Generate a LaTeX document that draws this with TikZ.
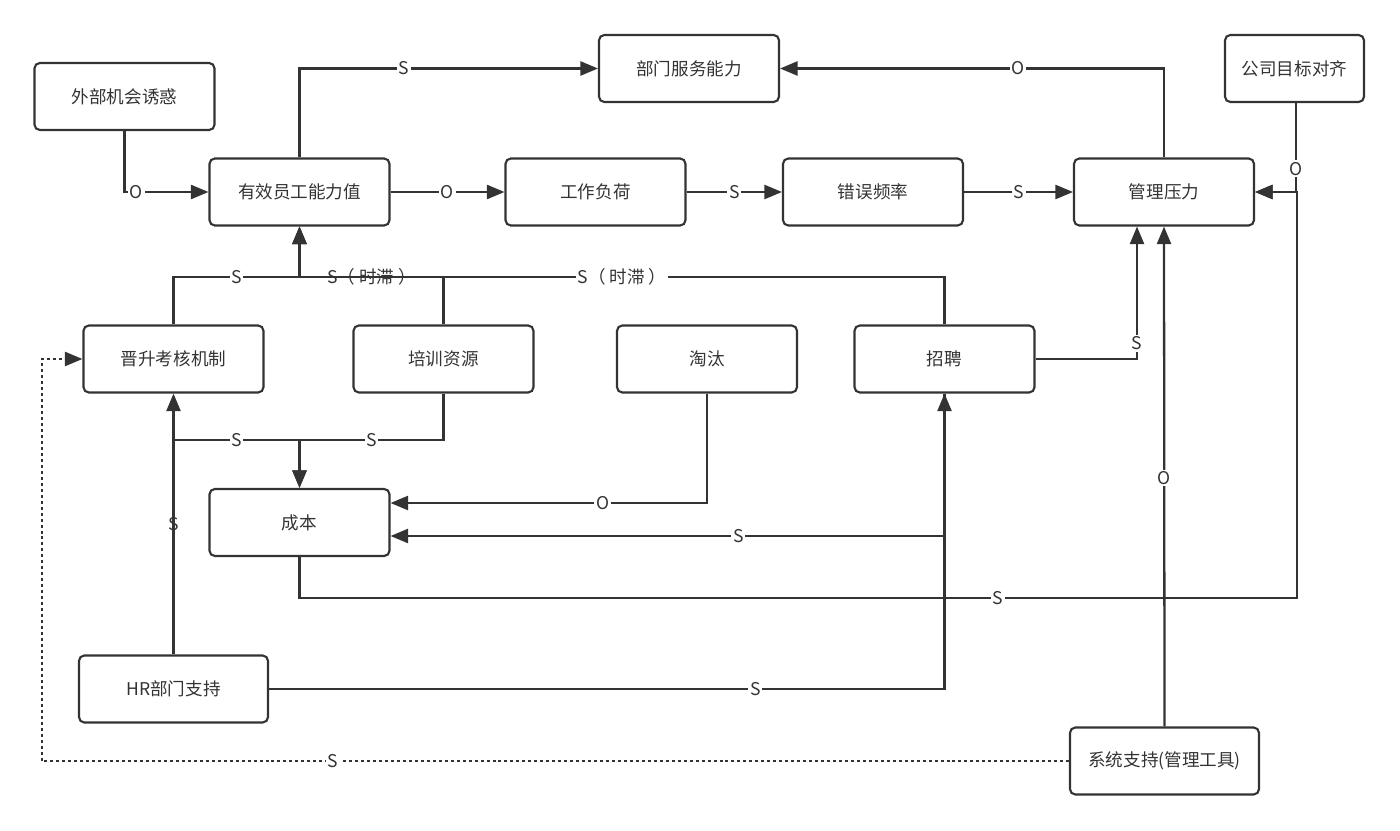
\documentclass[tikz,border=0pt]{standalone}
\usepackage{fontspec}
\setmainfont{Noto Sans CJK SC}
\usetikzlibrary{arrows.meta}
\begin{document}
\begin{tikzpicture}[
        x=0.02cm, y=-0.02cm,
        box/.style = {rectangle, rounded corners=3pt, draw=black!80, line width=1.2pt, minimum width=3.6cm, minimum height=1.34cm, align=center, font=\fontsize{10}{12}\selectfont, text=black!80},
        wide/.style = {box, minimum width=3.78cm},
        small/.style = {box, minimum width=2.78cm},
        arrow/.style = {draw=black!80, line width=1.3pt, -{Triangle[length=10pt, width=8pt]}},
        dotarrow/.style = {arrow, dash pattern=on 1.7pt off 1.7pt, line width=1.3pt},
        lbl/.style = {fill=white, inner sep=1pt, font=\fontsize{10}{12}\selectfont, text=black!80}
    ]
    \useasboundingbox (0,0) rectangle (1400,831);
    % ================= FILA SUPERIOR =================
    \node[box] (wai) at (124.5, 96.5) {外部机会诱惑};
    \node[box] (bm) at (689, 68.5) {部门服务能力};
    \node[small] (mb) at (1294.5, 68.5) {公司目标对齐};
    %
    \node[box] (yx) at (299.5, 192) {有效员工能力值};
    \node[box] (gz) at (595.5, 192) {工作负荷};
    \node[box] (cw) at (873, 192) {错误频率};
    \node[box] (gl) at (1164, 192) {管理压力};

    % ================= FILA MEDIA =================
    \node[box] (js) at (173.5, 359) {晋升考核机制};
    \node[box] (px) at (443.5, 359) {培训资源};
    \node[box] (tt) at (707, 359) {淘汰};
    \node[box] (zp) at (944.5, 359) {招聘};
    %
    \node[box] (cb) at (299.5, 522.5) {成本};

    % ================= FILA INFERIOR =================
    \node[wide] (hr) at (173.5, 689) {HR部门支持};
    \node[wide] (xt) at (1164.5, 761) {系统支持(管理工具)};

    % puntos de paso
    \coordinate (hub) at (299.5, 277);
    \coordinate (cbhub) at (299.5, 440);
    \coordinate (cbturn) at (1297, 598);
    \coordinate (dotturn) at (42, 761);

    % ================= CONEXIONES =================
    \draw[arrow] (wai.south) |- node[lbl, pos=0.57] {O} (yx.west);
    \draw[arrow] (yx.north) |- node[lbl, pos=0.675] {S} (bm.west);
    \draw[arrow] (gl.north) |- node[lbl, pos=0.69] {O} (bm.east);
    \draw[arrow] (yx) -- node[lbl] {O} (gz);
    \draw[arrow] (gz) -- node[lbl] {S} (cw);
    \draw[arrow] (cw) -- node[lbl] {S} (gl);
    \draw[arrow] (mb.south -| 1296,0) |- node[lbl, pos=0.37] {O} (gl.east);
    \draw[arrow] (cb.south) |- node[lbl, pos=0.85] {S} (cbturn) |- (gl.east);
    %
    \draw[arrow] (js.north) |- node[lbl, pos=0.75] {S} (hub) -- (yx.south);
    \draw[arrow] (px.north) |- node[lbl, pos=0.75] {S（ 时滞 ）} (hub) -- (yx.south);
    \draw[arrow] (zp.north) |- node[lbl, pos=0.75] {S（ 时滞 ）} (hub) -- (yx.south);
    %
    \draw[arrow] (hr.north) -- node[lbl] {S} (js.south);
    \draw[arrow] (hr.north) |- node[lbl, pos=0.75] {S} (cbhub) -- (cb.north);
    \draw[arrow] (px.south) |- node[lbl, pos=0.75] {S} (cbhub) -- (cb.north);
    \draw[arrow] (tt.south) |- node[lbl, pos=0.665] {O} (cb.east |- 0,503);
    \draw[arrow] (zp.south) |- node[lbl, pos=0.686] {S} (cb.east |- 0,536);
    \draw[arrow] (hr.east) -| node[lbl, pos=0.36] {S} (zp.south);
    \draw[arrow] (zp.east) -| node[lbl, pos=0.56] {S} (gl.south -| 1137,0);
    \draw[arrow] (xt.north) -- node[lbl, pos=0.497] {O} (gl.south);
    %
    \draw[dotarrow] (xt.west) -- node[lbl, pos=0.717] {S} (dotturn) |- (js.west);

    \end{tikzpicture}
\end{document}
